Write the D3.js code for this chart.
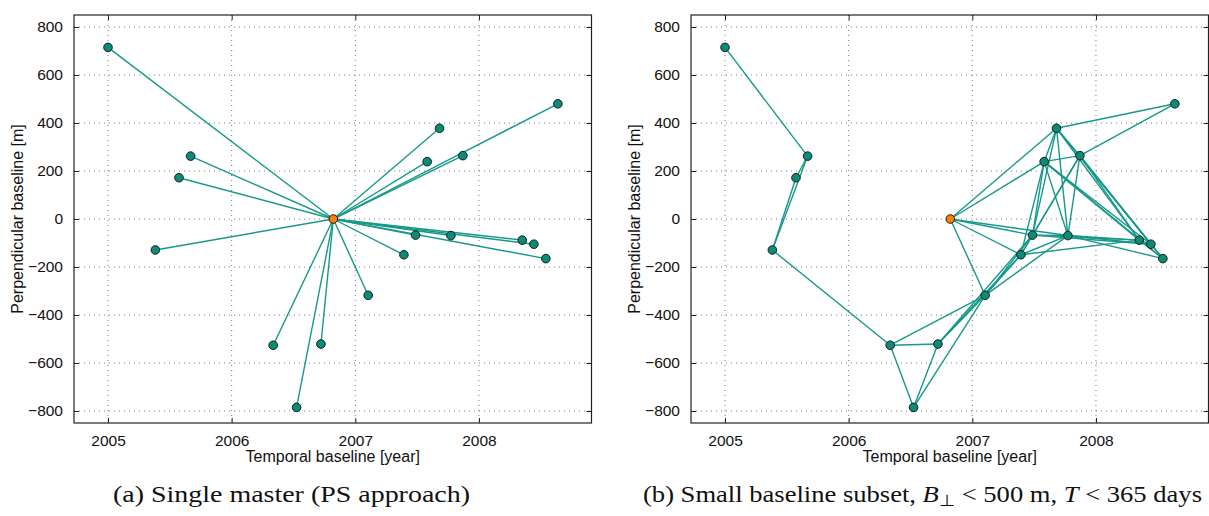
<!DOCTYPE html>
<html>
<head>
<meta charset="utf-8">
<script src="https://cdn.jsdelivr.net/npm/d3@7"></script>
<style>
  body { margin: 0; background: #fff; }
  svg text { font-family: "Liberation Sans", Arial, sans-serif; fill: #111; }
  svg text.caption { font-family: "Liberation Serif", "Times New Roman", serif; }
</style>
</head>
<body>
<script>
// acquisition dates (decimal year) and perpendicular baselines [m]
const acqYear = [2005.000, 2005.383, 2005.574, 2005.668, 2006.336, 2006.525, 2006.722, 2006.822,
  2007.104, 2007.393, 2007.487, 2007.581, 2007.681, 2007.773, 2007.870, 2008.350, 2008.444, 2008.541, 2008.638];
const perpBaseline = [715, -129, 172, 262, -526, -785, -521, 0,
  -318, -149, -67, 239, 378, -69, 264, -88, -105, -165, 480];
const masterIndex = 7;

// small baseline subset interferogram pairs (indices into the arrays above)
const sbasPairs = [[0,3],[1,2],[1,3],[1,4],[2,3],[4,5],[4,6],[4,8],[5,6],[5,8],[6,8],[6,9],[6,10],
  [7,8],[7,9],[7,10],[7,11],[7,12],[7,13],[8,9],[8,10],[8,13],[9,10],[9,11],[9,13],[9,14],[9,15],
  [10,11],[10,12],[10,13],[10,14],[10,15],[10,16],[11,12],[11,13],[11,14],[11,15],[11,16],[11,17],
  [12,13],[12,14],[12,15],[12,16],[12,18],[13,14],[13,15],[13,16],[13,17],[14,15],[14,16],[14,17],
  [14,18],[15,16],[15,17],[16,17]];

const xTicks = [2005, 2006, 2007, 2008];
const yTicks = [-800, -600, -400, -200, 0, 200, 400, 600, 800];
const xLabel = "Temporal baseline [year]";
const yLabel = "Perpendicular baseline [m]";

const width = 1209, height = 516;
const lineCol = "#17998a", dotCol = "#0b8c78", masterCol = "#ff7f00";
const fs = 15.5;

const svg = d3.select("body").append("svg").attr("width", width).attr("height", height);

// single master pairs: every slave to the master
const singlePairs = acqYear.map((d, i) => [masterIndex, i]).filter(p => p[1] !== masterIndex);

function panel(x0, pairs) {
  const xScale = d3.scaleLinear().domain([2004.725, 2008.91]).range([x0, x0 + 517.5]);
  const yScale = d3.scaleLinear().domain([-850, 850]).range([423, 15]);
  const g = svg.append("g");
  const [xa, xb] = xScale.range(), [yb, ya] = yScale.range();

  // dotted grid
  g.selectAll(".gx").data(xTicks).enter().append("line")
    .attr("x1", d => xScale(d)).attr("x2", d => xScale(d)).attr("y1", ya).attr("y2", yb)
    .attr("stroke", "#7a7a7a").attr("stroke-dasharray", "1,4");
  g.selectAll(".gy").data(yTicks).enter().append("line")
    .attr("y1", d => yScale(d)).attr("y2", d => yScale(d)).attr("x1", xa).attr("x2", xb)
    .attr("stroke", "#7a7a7a").attr("stroke-dasharray", "1,4");

  // axes with inward ticks on all four sides
  const tl = 5;
  g.append("g").attr("transform", `translate(0,${yb})`)
    .call(d3.axisBottom(xScale).tickValues(xTicks).tickFormat(d3.format("d")).tickSizeInner(-tl).tickSizeOuter(0).tickPadding(12));
  g.append("g").attr("transform", `translate(0,${ya})`)
    .call(d3.axisTop(xScale).tickValues(xTicks).tickFormat("").tickSizeInner(-tl).tickSizeOuter(0));
  g.append("g").attr("transform", `translate(${xa},0)`)
    .call(d3.axisLeft(yScale).tickValues(yTicks).tickSizeInner(-tl).tickSizeOuter(0).tickPadding(11));
  g.append("g").attr("transform", `translate(${xb},0)`)
    .call(d3.axisRight(yScale).tickValues(yTicks).tickFormat("").tickSizeInner(-tl).tickSizeOuter(0));
  g.selectAll(".domain").remove();
  g.selectAll(".tick line").attr("stroke", "#222");
  g.selectAll(".tick text").attr("font-size", fs).attr("fill", "#111")
    .style("font-family", '"Liberation Sans", Arial, sans-serif');
  g.append("rect").attr("x", xa).attr("y", ya).attr("width", xb - xa).attr("height", yb - ya)
    .attr("fill", "none").attr("stroke", "#222").attr("stroke-width", 1.2);

  // interferogram lines
  g.selectAll(".pair").data(pairs).enter().append("line")
    .attr("x1", p => xScale(acqYear[p[0]])).attr("y1", p => yScale(perpBaseline[p[0]]))
    .attr("x2", p => xScale(acqYear[p[1]])).attr("y2", p => yScale(perpBaseline[p[1]]))
    .attr("stroke", lineCol).attr("stroke-width", 1.4);

  // acquisitions
  g.selectAll(".acq").data(acqYear).enter().append("circle")
    .attr("cx", d => xScale(d)).attr("cy", (d, i) => yScale(perpBaseline[i]))
    .attr("r", 4.3)
    .attr("fill", (d, i) => i === masterIndex ? masterCol : dotCol)
    .attr("stroke", "#1a1a1a").attr("stroke-width", 1);

  // axis titles
  g.append("text").attr("x", (xa + xb) / 2).attr("y", 462).attr("text-anchor", "middle")
    .attr("font-size", fs + 0.5).text(xLabel);
  g.append("text").attr("transform", `translate(${xa - 51},${(ya + yb) / 2}) rotate(-90)`)
    .attr("text-anchor", "middle").attr("font-size", fs + 0.5).text(yLabel);
}

panel(74, singlePairs);
panel(691, sbasPairs);

// captions
svg.append("text").attr("class", "caption").attr("x", 113).attr("y", 502)
  .attr("font-size", 23).attr("textLength", 357).attr("lengthAdjust", "spacingAndGlyphs")
  .text("(a) Single master (PS approach)");
const cap = svg.append("text").attr("class", "caption").attr("x", 643).attr("y", 502)
  .attr("font-size", 23).attr("textLength", 559).attr("lengthAdjust", "spacingAndGlyphs");
cap.append("tspan").text("(b) Small baseline subset, ");
cap.append("tspan").attr("font-style", "italic").text("B");
cap.append("tspan").attr("font-size", 16).attr("dy", 4).text("⊥");
cap.append("tspan").attr("dy", -4).text(" < 500 m, ");
cap.append("tspan").attr("font-style", "italic").text("T");
cap.append("tspan").text(" < 365 days");
</script>
</body>
</html>
